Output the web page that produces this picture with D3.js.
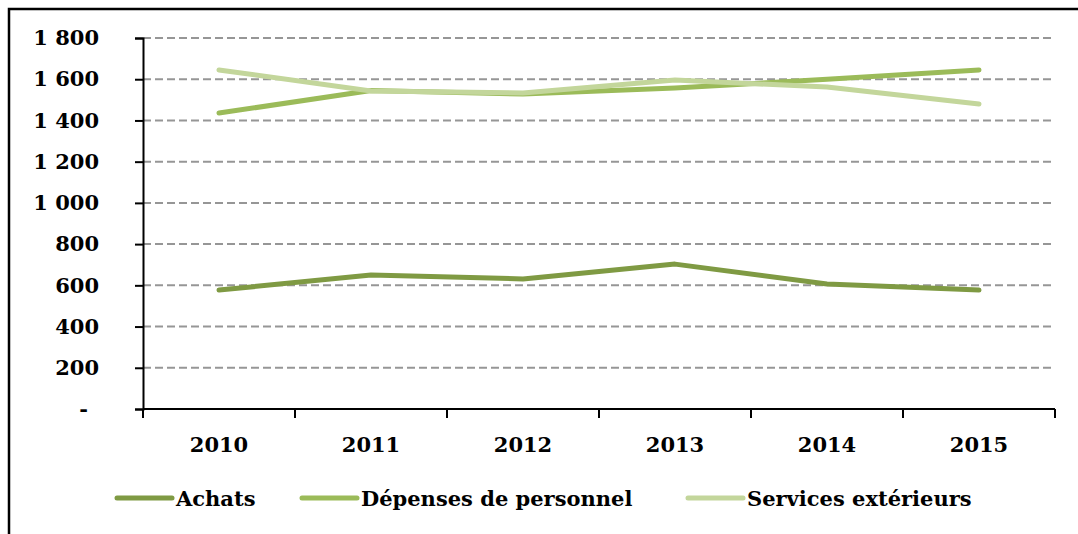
<!DOCTYPE html>
<html>
<head>
<meta charset="utf-8">
<script src="https://cdn.jsdelivr.net/npm/d3@7"></script>
<style>
  body { margin: 0; background: #fff; }
  svg text { font-family: "DejaVu Serif", serif; font-weight: bold; fill: #000; }
</style>
</head>
<body>
<div id="chart"></div>
<script>
// Data
var years = ["2010", "2011", "2012", "2013", "2014", "2015"];
var achats = [577, 650, 631, 703, 606, 577];
var depenses = [1436, 1545, 1528, 1557, 1600, 1645];
var services = [1645, 1543, 1533, 1596, 1562, 1480];
var seriesNames = ["Achats", "Dépenses de personnel", "Services extérieurs"];
var seriesColors = ["#7F9A43", "#9BBB59", "#C3D69B"];
var yTicks = [0, 200, 400, 600, 800, 1000, 1200, 1400, 1600, 1800];

var W = 1078, H = 534;
var margin = {top: 38, right: 23, bottom: 125, left: 143};

var svg = d3.select("#chart").append("svg")
	.attr("width", W).attr("height", H);

// outer frame (runs off the page right and bottom)
svg.append("rect")
	.attr("x", 9).attr("y", 9)
	.attr("width", W + 20).attr("height", H + 20)
	.attr("fill", "none").attr("stroke", "#000").attr("stroke-width", 2.5);

var x = d3.scaleBand().domain(years).range([margin.left, W - margin.right]);
var y = d3.scaleLinear().domain([0, 1800]).range([H - margin.bottom, margin.top]);

//Gridlines
svg.append("g").selectAll("line")
	.data(yTicks.filter(function(d) { return d > 0; }))
	.enter().append("line")
	.attr("x1", margin.left).attr("x2", W - margin.right)
	.attr("y1", function(d) { return y(d); }).attr("y2", function(d) { return y(d); })
	.attr("stroke", "#969696").attr("stroke-width", 2)
	.attr("stroke-dasharray", "8,4");

//Y axis
var yAxis = svg.append("g")
	.attr("transform", "translate(" + margin.left + ",0)")
	.call(d3.axisLeft(y).tickValues(yTicks).tickSize(8).tickPadding(36)
		.tickFormat(function(d) { return d === 0 ? "-" : d3.format(",")(d).replace(",", " "); }));
yAxis.select(".domain").attr("stroke", "#000").attr("stroke-width", 2);
yAxis.selectAll(".tick line").attr("stroke", "#000").attr("stroke-width", 2);
yAxis.selectAll("text").style("font-size", "21px");
yAxis.selectAll(".tick").filter(function(d) { return d === 0; })
	.select("text").attr("dx", -11);

//X axis
var xAxis = svg.append("g")
	.attr("transform", "translate(0," + y(0) + ")");
xAxis.append("line")
	.attr("x1", margin.left).attr("x2", W - margin.right)
	.attr("stroke", "#000").attr("stroke-width", 2);
var bounds = years.map(function(d) { return x(d); }).concat([W - margin.right]);
xAxis.selectAll(".xt").data(bounds).enter().append("line")
	.attr("x1", function(d) { return d; }).attr("x2", function(d) { return d; })
	.attr("y1", 0).attr("y2", 9)
	.attr("stroke", "#000").attr("stroke-width", 2);
xAxis.selectAll("text").data(years).enter().append("text")
	.attr("x", function(d) { return x(d) + x.bandwidth() / 2; })
	.attr("y", 43)
	.attr("text-anchor", "middle")
	.style("font-size", "21px")
	.text(function(d) { return d; });

//Lines
var allSeries = [achats, depenses, services];
var line = d3.line()
	.x(function(d, i) { return x(years[i]) + x.bandwidth() / 2; })
	.y(function(d) { return y(d); });

svg.append("g").selectAll("path")
	.data(allSeries).enter().append("path")
	.attr("d", line)
	.attr("fill", "none")
	.attr("stroke", function(d, i) { return seriesColors[i]; })
	.attr("stroke-width", 5)
	.attr("stroke-linecap", "round")
	.attr("stroke-linejoin", "round");

//Legend
var legendX = [117, 302, 688];
var leg = svg.append("g").selectAll("g")
	.data(seriesNames).enter().append("g")
	.attr("transform", function(d, i) { return "translate(" + legendX[i] + ",498)"; });
leg.append("line")
	.attr("x1", 0).attr("x2", 55)
	.attr("stroke", function(d, i) { return seriesColors[i]; })
	.attr("stroke-width", 5).attr("stroke-linecap", "round");
leg.append("text")
	.attr("x", 59).attr("y", 8)
	.style("font-size", "21px")
	.text(function(d) { return d; });
</script>
</body>
</html>
